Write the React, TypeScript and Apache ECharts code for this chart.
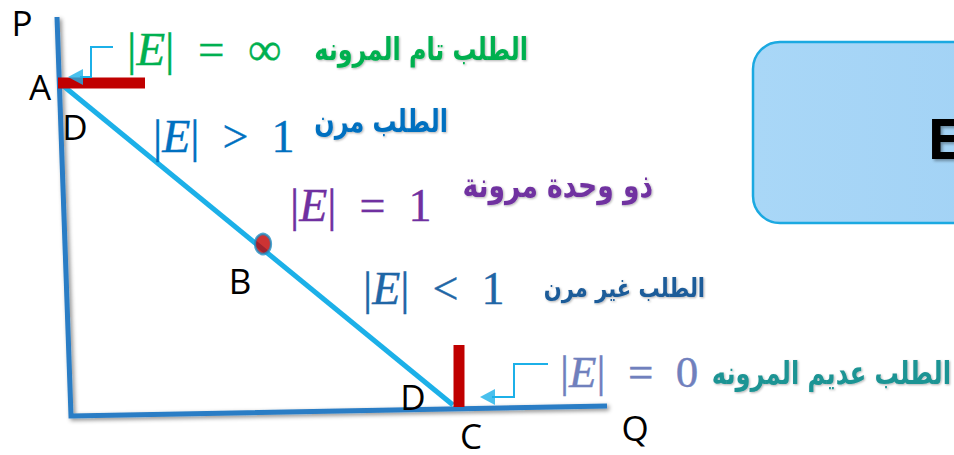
import React, { useEffect, useRef } from "react";
import * as echarts from "echarts";

// ---- data (pixel-space coordinates of the diagram) ----
const axisPath: [number, number][] = [[57, 17], [71, 416], [607, 406]];
const demandLine: [number, number][] = [[61, 84], [453, 405]];
const perfectlyElastic: [number, number][] = [[58, 83], [145, 83]];
const perfectlyInelastic: [number, number][] = [[459, 345], [459, 407]];
const pointB: [number, number][] = [[263, 244]];
const arrowTop: [number, number][] = [[113, 47], [91, 47], [91, 77], [80, 77]];
const arrowTopHead: [number, number][] = [[75.5, 77]];
const arrowBottom: [number, number][] = [[548, 364], [514, 364], [514, 397], [492, 397]];
const arrowBottomHead: [number, number][] = [[487.5, 397]];

const pointLetters = ["P", "A", "D", "B", "D", "C", "Q"];
const mathRelations = ["=", ">", "=", "<", "="];
const mathValues = ["∞", "1", "1", "1", "0"];
const arabicLabels = [
  "الطلب تام المرونه",
  "الطلب مرن",
  "ذو وحدة مرونة",
  "الطلب غير مرن",
  "الطلب عديم المرونه",
];
const boxLetter = "E";

// ---- layout ----
const letterPos: [number, number][] = [[22, 22], [40, 86], [75, 126], [240, 280], [413, 396], [471, 435], [635, 427]];
const mathPos: [number, number, number][] = [[127, 49, 47], [153, 136, 46], [290, 205, 46], [363, 288, 46], [560, 372, 45]];
const mathColors = ["#00b050", "#0070c0", "#7030a0", "#1f66a6", "#7080bd"];
// [right x, centre y, font size, horizontal scale]
const arabicPos: [number, number, number, number][] = [
  [528, 49, 31, 0.77],
  [448, 121, 31, 0.77],
  [653, 185, 34, 0.78],
  [705, 288, 26, 0.81],
  [951, 373, 32, 0.756],
];
const arabicColors = ["#00b050", "#0070c0", "#7030a0", "#1f5c99", "#1f9494"];

const NB = "\u00a0\u00a0";

export default function App() {
  const ref = useRef<HTMLDivElement>(null);
  useEffect(() => {
    if (!ref.current) return;
    const chart = echarts.init(ref.current, undefined, { renderer: "svg" });
    const shadow = { shadowBlur: 4, shadowColor: "rgba(0,0,0,0.45)", shadowOffsetX: 2, shadowOffsetY: 2 };
    const lineSeries = (data: [number, number][], color: string, width: number, z: number, extra: any = {}) => ({
      type: "line",
      data,
      symbol: "none",
      silent: true,
      clip: false,
      z,
      lineStyle: { color, width, cap: "butt", join: "miter", ...extra },
    });
    const graphics: any[] = [];
    graphics.push({
      type: "rect",
      shape: { x: 753, y: 42, width: 260, height: 181, r: 27 },
      style: {
        fill: new echarts.graphic.LinearGradient(0, 0, 1, 0, [
          { offset: 0, color: "#a9d7f7" },
          { offset: 1, color: "#a2d2f5" },
        ]),
        stroke: "#1ba9e1",
        lineWidth: 2.5,
      },
      z: 1,
    });
    graphics.push({
      type: "text",
      x: 927,
      y: 137,
      style: {
        text: boxLetter,
        font: "bold 56px 'Open Sans'",
        fill: "#000",
        verticalAlign: "middle",
        align: "left",
        lineHeight: 44,
        textShadowColor: "rgba(0,0,0,0.35)",
        textShadowBlur: 3,
        textShadowOffsetX: 2,
        textShadowOffsetY: 2,
      },
      z: 5,
    });
    pointLetters.forEach((t, i) => {
      graphics.push({
        type: "text",
        x: letterPos[i][0],
        y: letterPos[i][1],
        style: {
          text: t,
          font: "35px 'Open Sans'",
          fill: "#000",
          align: "center",
          verticalAlign: "middle",
          lineHeight: 30,
        },
        z: 5,
      });
    });
    mathRelations.forEach((rel, i) => {
      const [x, y, size] = mathPos[i];
      const c = mathColors[i];
      graphics.push({
        type: "text",
        x,
        y,
        style: {
          text: `{a||}{e|E}{a||${NB}${rel}${NB}${mathValues[i]}}`,
          fill: c,
          align: "left",
          verticalAlign: "middle",
          rich: {
            a: { fontFamily: "Liberation Serif", fontSize: size, fill: c, stroke: c, lineWidth: 0.4 },
            e: {
              fontFamily: "Liberation Serif",
              fontStyle: "italic",
              fontSize: size,
              fill: c,
              stroke: c,
              lineWidth: 0.4,
            },
          },
        },
        z: 5,
      });
    });
    arabicLabels.forEach((t, i) => {
      const [x, y, size, sx] = arabicPos[i];
      graphics.push({
        type: "text",
        x,
        y,
        scaleX: sx,
        style: {
          text: t,
          font: `bold ${size}px 'DejaVu Sans'`,
          fill: arabicColors[i],
          align: "right",
          verticalAlign: "middle",
          textShadowColor: "rgba(0,0,0,0.3)",
          textShadowBlur: 2,
          textShadowOffsetX: 1,
          textShadowOffsetY: 1,
        },
        z: 5,
      });
    });

    chart.setOption({
      animation: false,
      grid: { left: 0, right: 0, top: 0, bottom: 0 },
      xAxis: { type: "value", min: 0, max: 954, show: false },
      yAxis: { type: "value", min: 0, max: 455, inverse: true, show: false },
      series: [
        lineSeries(axisPath, "#2a7dc5", 5, 2, shadow),
        lineSeries(demandLine, "#1cb0e8", 5, 3),
        lineSeries(perfectlyElastic, "#c00000", 11, 4),
        lineSeries(perfectlyInelastic, "#c00000", 11, 4),
        lineSeries(arrowTop, "#1cb0e8", 2, 4),
        lineSeries(arrowBottom, "#1cb0e8", 2, 4),
        {
          type: "scatter",
          data: arrowTopHead,
          symbol: "triangle",
          symbolRotate: 90,
          symbolSize: [16, 15],
          itemStyle: { color: "#1cb0e8" },
          silent: true,
          z: 5,
        },
        {
          type: "scatter",
          data: arrowBottomHead,
          symbol: "triangle",
          symbolRotate: 90,
          symbolSize: [16, 15],
          itemStyle: { color: "#1cb0e8" },
          silent: true,
          z: 5,
        },
        {
          type: "scatter",
          data: pointB,
          symbol: "circle",
          symbolSize: [16, 20],
          itemStyle: { color: "#c00000", borderColor: "#1f8fc4", borderWidth: 2.5 },
          silent: true,
          z: 6,
        },
      ],
      graphic: graphics,
    });
    return () => chart.dispose();
  }, []);
  return (
    <div
      ref={ref}
      style={{ position: "fixed", left: 0, top: 0, width: 954, height: 455, background: "#fff" }}
    />
  );
}
